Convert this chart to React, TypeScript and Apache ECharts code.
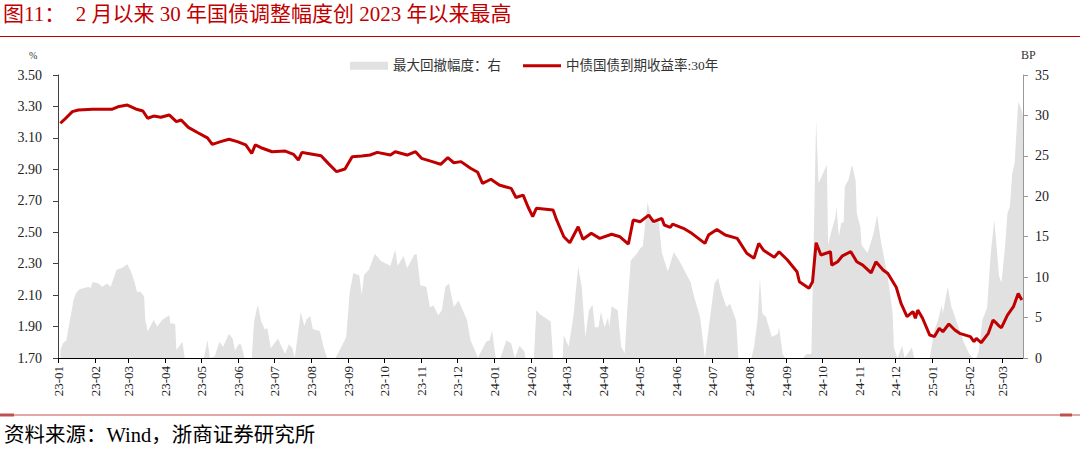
import React, { useEffect, useRef } from "react";
import * as echarts from "echarts";

const TITLE = "图11：  2 月以来 30 年国债调整幅度创 2023 年以来最高";
const SOURCE = "资料来源：Wind，浙商证券研究所";
const LINE_NAME = "中债国债到期收益率:30年";
const AREA_NAME = "最大回撤幅度：右";

const lineDates = [
  "2023-01-03","2023-01-06","2023-01-13","2023-01-18","2023-01-30","2023-02-15","2023-02-20","2023-02-28",
  "2023-03-07","2023-03-13","2023-03-17","2023-03-22","2023-03-28","2023-04-04","2023-04-10","2023-04-14",
  "2023-04-20","2023-04-28","2023-05-04","2023-05-06","2023-05-10","2023-05-17","2023-05-24","2023-05-31",
  "2023-06-07","2023-06-12","2023-06-15","2023-06-21","2023-06-29","2023-07-10","2023-07-17","2023-07-21",
  "2023-07-24","2023-07-28","2023-08-09","2023-08-15","2023-08-22","2023-08-29","2023-09-04","2023-09-12",
  "2023-09-19","2023-09-25","2023-10-06","2023-10-10","2023-10-20","2023-10-27","2023-11-01","2023-11-10",
  "2023-11-17","2023-11-23","2023-11-28","2023-12-04","2023-12-12","2023-12-18","2023-12-22","2023-12-29",
  "2024-01-05","2024-01-10","2024-01-15","2024-01-19","2024-01-25","2024-01-29","2024-02-02","2024-02-05",
  "2024-02-19","2024-02-22","2024-02-28","2024-03-04","2024-03-11","2024-03-15","2024-03-22","2024-03-29",
  "2024-04-08","2024-04-15","2024-04-22","2024-04-26","2024-05-02","2024-05-09","2024-05-13","2024-05-20",
  "2024-05-22","2024-05-27","2024-05-29","2024-06-07","2024-06-14","2024-06-25","2024-06-28","2024-07-05",
  "2024-07-12","2024-07-22","2024-07-30","2024-08-05","2024-08-09","2024-08-13","2024-08-22","2024-08-26",
  "2024-09-02","2024-09-10","2024-09-12","2024-09-20","2024-09-23","2024-09-26","2024-09-30","2024-10-08",
  "2024-10-09","2024-10-14","2024-10-18","2024-10-25","2024-10-30","2024-11-04","2024-11-11","2024-11-15",
  "2024-11-21","2024-11-25","2024-12-02","2024-12-06","2024-12-11","2024-12-16","2024-12-18","2024-12-20",
  "2024-12-24","2024-12-30","2025-01-03","2025-01-07","2025-01-10","2025-01-15","2025-01-20","2025-01-24",
  "2025-02-02","2025-02-05","2025-02-07","2025-02-11","2025-02-17","2025-02-21","2025-02-24","2025-02-26",
  "2025-02-28","2025-03-05","2025-03-10","2025-03-14","2025-03-17"
];
const lineValues = [
  3.193,3.214,3.267,3.277,3.282,3.282,3.298,3.309,
  3.284,3.271,3.225,3.239,3.231,3.246,3.203,3.214,
  3.167,3.133,3.108,3.100,3.059,3.076,3.091,3.076,
  3.055,3.002,3.055,3.034,3.012,3.016,2.995,2.959,
  3.008,3.002,2.987,2.938,2.885,2.902,2.980,2.985,
  2.991,3.008,2.991,3.012,2.991,3.012,2.970,2.949,
  2.932,2.974,2.942,2.949,2.907,2.881,2.811,2.837,
  2.800,2.789,2.779,2.721,2.736,2.662,2.599,2.652,
  2.641,2.578,2.471,2.433,2.535,2.455,2.493,2.461,
  2.487,2.471,2.425,2.578,2.567,2.609,2.567,2.588,
  2.546,2.531,2.552,2.525,2.493,2.429,2.482,2.518,
  2.482,2.461,2.366,2.334,2.429,2.386,2.340,2.376,
  2.323,2.249,2.185,2.143,2.185,2.433,2.355,2.376,
  2.291,2.312,2.350,2.376,2.312,2.291,2.242,2.312,
  2.260,2.238,2.150,2.047,1.963,1.995,1.953,2.005,
  1.953,1.846,1.836,1.889,1.867,1.916,1.878,1.857,
  1.836,1.804,1.825,1.797,1.857,1.941,1.920,1.903,
  1.893,1.973,2.026,2.111,2.069
];

const areaDates = [
  "2023-01-03","2023-01-05","2023-01-08","2023-01-10","2023-01-13","2023-01-14","2023-01-16","2023-01-19",
  "2023-01-27","2023-01-28","2023-01-30","2023-02-04","2023-02-07","2023-02-11","2023-02-14","2023-02-19",
  "2023-02-23","2023-02-28","2023-03-03","2023-03-06","2023-03-08","2023-03-11","2023-03-14","2023-03-15",
  "2023-03-17","2023-03-22","2023-03-25","2023-03-29","2023-04-04","2023-04-05","2023-04-09","2023-04-10",
  "2023-04-15","2023-04-17","2023-05-03","2023-05-06","2023-05-08","2023-05-12","2023-05-16","2023-05-19",
  "2023-05-24","2023-05-27","2023-05-29","2023-06-01","2023-06-03","2023-06-06","2023-06-12","2023-06-14",
  "2023-06-17","2023-06-20","2023-06-23","2023-06-25","2023-06-28","2023-07-04","2023-07-07","2023-07-10",
  "2023-07-13","2023-07-16","2023-07-18","2023-07-23","2023-07-26","2023-07-28","2023-07-31","2023-08-02",
  "2023-08-08","2023-08-11","2023-08-14","2023-08-21","2023-08-26","2023-08-30","2023-09-02","2023-09-05",
  "2023-09-10","2023-09-12","2023-09-14","2023-09-18","2023-09-23","2023-09-28","2023-10-06","2023-10-10",
  "2023-10-12","2023-10-17","2023-10-20","2023-10-26","2023-10-28","2023-10-31","2023-11-05","2023-11-08",
  "2023-11-11","2023-11-15","2023-11-18","2023-11-21","2023-11-24","2023-11-28","2023-12-02","2023-12-09",
  "2023-12-12","2023-12-17","2023-12-18","2023-12-25","2023-12-28","2023-12-30","2024-01-02","2024-01-06",
  "2024-01-11","2024-01-15","2024-01-18","2024-01-22","2024-01-26","2024-01-27","2024-02-03","2024-02-05",
  "2024-02-08","2024-02-17","2024-02-19","2024-02-27","2024-02-28","2024-03-03","2024-03-07","2024-03-11",
  "2024-03-14","2024-03-17","2024-03-20","2024-03-23","2024-03-25","2024-03-28","2024-03-30","2024-04-02",
  "2024-04-05","2024-04-06","2024-04-08","2024-04-13","2024-04-16","2024-04-19","2024-04-21","2024-04-24",
  "2024-04-29","2024-05-02","2024-05-04","2024-05-08","2024-05-13","2024-05-17","2024-05-20","2024-05-25",
  "2024-05-30","2024-06-04","2024-06-13","2024-06-15","2024-06-21","2024-06-24","2024-06-25","2024-06-29",
  "2024-07-03","2024-07-06","2024-07-09","2024-07-13","2024-07-16","2024-07-21","2024-07-23","2024-08-03",
  "2024-08-05","2024-08-08","2024-08-10","2024-08-12","2024-08-15","2024-08-20","2024-08-25","2024-08-26",
  "2024-08-29","2024-08-31","2024-09-15","2024-09-18","2024-09-22","2024-09-24","2024-09-25","2024-09-26",
  "2024-09-28","2024-10-05","2024-10-06","2024-10-09","2024-10-12","2024-10-13","2024-10-15","2024-10-17",
  "2024-10-19","2024-10-20","2024-10-23","2024-10-26","2024-10-29","2024-10-30","2024-11-02","2024-11-03",
  "2024-11-08","2024-11-13","2024-11-16","2024-11-19","2024-11-25","2024-11-29","2024-11-30","2024-12-03",
  "2024-12-07","2024-12-09","2024-12-15","2024-12-17","2024-12-30","2025-01-03","2025-01-06","2025-01-09",
  "2025-01-10","2025-01-14","2025-01-17","2025-01-21","2025-01-27","2025-02-01","2025-02-04","2025-02-07",
  "2025-02-09","2025-02-12","2025-02-16","2025-02-19","2025-02-22","2025-02-26","2025-02-28","2025-03-03",
  "2025-03-05","2025-03-07","2025-03-09","2025-03-11","2025-03-14","2025-03-16","2025-03-18"
];
const areaValues = [
  1.0,1.8,2.2,3.9,6.3,7.2,8.0,8.5,
  8.8,8.6,9.4,9.2,8.8,9.2,8.8,10.9,
  11.1,11.6,10.7,9.4,8.2,8.2,7.6,4.7,
  3.3,4.7,3.9,4.7,5.3,4.3,4.2,1.0,
  2.0,0,0,2.2,0,0.2,2.0,1.4,
  3.0,2.4,0.9,1.7,1.7,0,0,4.5,
  6.6,4.5,3.5,3.7,1.2,2.4,1.4,0.5,
  1.7,1.2,0,5.7,4.0,4.8,5.2,3.6,
  3.3,1.4,0,0,1.4,2.6,8.2,10.5,
  10.2,7.8,10.3,10.9,12.9,12.0,11.4,13.4,
  11.4,12.6,11.1,12.8,12.8,9.0,8.8,6.3,
  6.5,5.3,5.9,8.8,9.2,6.3,7.1,4.7,
  2.2,0.5,0,2.0,2.2,3.4,0,0,
  2.2,1.8,0,1.5,0.8,0,0,5.9,
  5.4,4.5,0,0,2.8,1.4,5.1,11.3,
  8.8,2.6,5.9,6.6,3.8,3.8,5.7,3.8,
  5.0,3.8,6.4,5.9,1.4,0.6,5.9,12.1,
  12.9,13.6,13.8,19.2,16.5,17.4,13.0,10.7,
  13.1,11.9,9.4,8.1,5.0,1.3,0,4.7,
  9.2,9.9,8.0,6.3,6.7,4.7,0,0,
  1.3,4.7,9.9,5.5,5.1,2.6,3.0,3.8,
  0.5,0,0,0.5,0.5,14.6,22.0,29.4,
  21.6,23.9,14.0,15.8,17.3,18.7,15.0,16.7,
  16.8,21.2,22.0,23.9,22.0,17.9,16.2,14.0,
  13.0,15.4,17.7,14.6,10.0,5.5,1.3,0,
  1.5,0,1.3,0,0,3.5,4.7,6.5,
  5.5,8.8,6.4,4.7,2.1,0.5,0,0,
  0.9,4.7,6.2,12.9,17.1,10.1,9.3,13.8,
  17.9,18.7,22.8,24.1,31.7,31.0,30.0
];

const leftTicks = [1.7, 1.9, 2.1, 2.3, 2.5, 2.7, 2.9, 3.1, 3.3, 3.5];
const monthTickLabels = [
  "23-01","23-02","23-03","23-04","23-05","23-06","23-07","23-08","23-09","23-10","23-11","23-12",
  "24-01","24-02","24-03","24-04","24-05","24-06","24-07","24-08","24-09","24-10","24-11","24-12",
  "25-01","25-02","25-03"
];
const X_START = "2023-01-01";
const X_END = "2025-03-18";

const SERIF = '"Liberation Serif", "DejaVu Serif", "Noto Sans CJK SC", serif';

function toTime(s: string): number {
  const [y, m, d] = s.split("-").map(Number);
  return Date.UTC(y, m - 1, d);
}
function labelToTime(l: string): number {
  const [yy, mm] = l.split("-").map(Number);
  return Date.UTC(2000 + yy, mm - 1, 1);
}
function timeToLabel(v: number): string {
  const d = new Date(v);
  const yy = String(d.getUTCFullYear() % 100).padStart(2, "0");
  const mm = String(d.getUTCMonth() + 1).padStart(2, "0");
  return `${yy}-${mm}`;
}

export default function App() {
  const ref = useRef<HTMLDivElement>(null);
  useEffect(() => {
    if (!ref.current) return;
    const chart = echarts.init(ref.current, undefined, { renderer: "svg" });
    const monthValues = monthTickLabels.map(labelToTime);
    chart.setOption({
      animation: false,
      backgroundColor: "#ffffff",
      grid: { left: 58, right: 57, top: 75, bottom: 93, containLabel: false },
      legend: {
        left: 345,
        top: 54,
        itemWidth: 38,
        itemHeight: 8,
        itemGap: 22,
        symbolKeepAspect: true,
        textStyle: { fontSize: 13.5, color: "#333", fontFamily: SERIF },
        data: [
          { name: AREA_NAME, icon: "rect" },
          { name: LINE_NAME, icon: "path://M0,0H40V3.2H0Z" }
        ]
      },
      xAxis: {
        type: "value",
        min: toTime(X_START),
        max: toTime(X_END),
        axisLine: { show: true, onZero: false, lineStyle: { color: "#000", width: 1 } },
        axisTick: { show: true, length: 5, customValues: monthValues, lineStyle: { color: "#000" } },
        axisLabel: {
          customValues: monthValues,
          rotate: 90,
          margin: 8,
          formatter: (v: number) => timeToLabel(v),
          fontSize: 13,
          color: "#222",
          fontFamily: SERIF
        },
        splitLine: { show: false }
      },
      yAxis: [
        {
          type: "value",
          min: 1.7,
          max: 3.5,
          position: "left",
          axisLine: { show: true, lineStyle: { color: "#404040", width: 1 } },
          axisTick: { show: true, inside: false, length: 5, customValues: leftTicks, lineStyle: { color: "#404040" } },
          axisLabel: {
            customValues: leftTicks,
            formatter: (v: number) => v.toFixed(2),
            fontSize: 14,
            color: "#222",
            margin: 16,
            fontFamily: SERIF
          },
          splitLine: { show: false }
        },
        {
          type: "value",
          min: 0,
          max: 35,
          interval: 5,
          position: "right",
          axisLine: { show: true, lineStyle: { color: "#999", width: 1 } },
          axisTick: { show: true, length: 5, lineStyle: { color: "#999" } },
          axisLabel: { fontSize: 14, color: "#222", margin: 12, fontFamily: SERIF },
          splitLine: { show: false }
        }
      ],
      series: [
        {
          name: AREA_NAME,
          type: "line",
          yAxisIndex: 1,
          symbol: "none",
          data: areaDates.map((d, i) => [toTime(d), areaValues[i]]),
          lineStyle: { width: 0, color: "#e1e1e1" },
          itemStyle: { color: "#e1e1e1" },
          areaStyle: { color: "#e1e1e1", opacity: 1 },
          z: 1
        },
        {
          name: LINE_NAME,
          type: "line",
          yAxisIndex: 0,
          symbol: "none",
          data: lineDates.map((d, i) => [toTime(d), lineValues[i]]),
          lineStyle: { width: 3, color: "#c00000" },
          itemStyle: { color: "#c00000" },
          z: 3
        }
      ],
      graphic: [
        {
          type: "text",
          left: 3,
          top: 3,
          style: { text: TITLE, fontSize: 21, fill: "#c00000", fontFamily: SERIF }
        },
        {
          type: "line",
          shape: { x1: 0, y1: 36.5, x2: 1080, y2: 36.5 },
          style: { stroke: "#c00000", lineWidth: 1.2 }
        },
        {
          type: "text",
          left: 29,
          top: 50,
          style: { text: "%", fontSize: 10, fill: "#333", fontFamily: SERIF }
        },
        {
          type: "text",
          left: 1021,
          top: 49,
          style: { text: "BP", fontSize: 12, fill: "#333", fontFamily: SERIF }
        },
        {
          type: "line",
          shape: { x1: 0, y1: 415, x2: 1080, y2: 415 },
          style: { stroke: "#c0504d", lineWidth: 1 }
        },
        {
          type: "rect",
          shape: { x: 0, y: 413.5, width: 14, height: 3 },
          style: { fill: "#c0504d" }
        },
        {
          type: "rect",
          shape: { x: 1060, y: 413.5, width: 12, height: 3 },
          style: { fill: "#c0504d" }
        },
        {
          type: "text",
          left: 4,
          top: 425,
          style: { text: SOURCE, fontSize: 20.5, fill: "#000", fontFamily: SERIF }
        }
      ]
    });
    return () => chart.dispose();
  }, []);
  return (
    <div
      ref={ref}
      style={{ position: "fixed", left: 0, top: 0, width: 1080, height: 451, background: "#fff" }}
    />
  );
}
